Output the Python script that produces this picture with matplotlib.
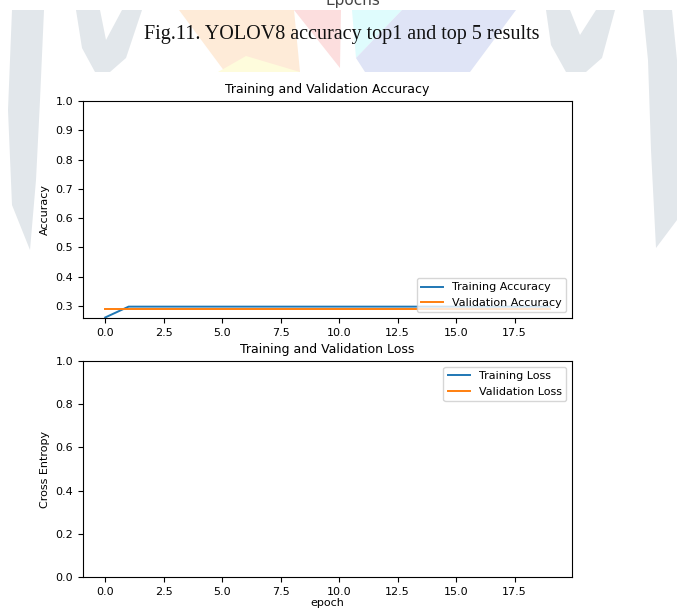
import matplotlib.pyplot as plt
from matplotlib.patches import Polygon
import numpy as np

# данные
epochs = list(range(20))
train_acc = [0.26] + [0.297] * 19
val_acc = [0.289] * 20
# потери за пределами видимой области (на графике их нет)
train_loss = [np.nan] * 20
val_loss = [np.nan] * 20

W, H = 677, 609

def px(pts):
	return [(x / W, 1 - y / H) for x, y in pts]

fig = plt.figure(figsize=(W / 100, H / 100), dpi=100)

# водяной знак страницы
shapes = [
	([(12, 10), (44, 10), (40, 100), (36, 180), (30, 250), (12, 205), (8, 110)], '#e2e7eb'),
	([(643, 10), (672, 10), (677, 60), (677, 220), (656, 248), (651, 150), (648, 60)], '#e2e7eb'),
	([(76, 10), (100, 10), (106, 40), (122, 10), (142, 10), (126, 58), (110, 72), (95, 72), (82, 48)], '#e2e7eb'),
	([(546, 10), (570, 10), (580, 35), (596, 10), (615, 10), (602, 58), (586, 72), (566, 72), (551, 45)], '#e2e7eb'),
	([(179, 10), (294, 10), (300, 72), (225, 72)], '#feebd8'),
	([(294, 10), (341, 10), (340, 68)], '#fcdede'),
	([(352, 10), (402, 10), (356, 58)], '#dffcfd'),
	([(402, 10), (516, 10), (470, 72), (365, 72), (356, 58)], '#dfe4f6'),
	([(246, 56), (300, 72), (218, 72)], '#fefcdc'),
]
for pts, c in shapes:
	fig.add_artist(Polygon(px(pts), closed=True, transform=fig.transFigure,
		facecolor=c, edgecolor='none', zorder=0))

fig.text(0.522, 1.0, 'Epochs', ha='center', va='center', fontsize=11, color='#444444')
fig.text(0.505, 1 - 35 / H, 'Fig.11. YOLOV8 accuracy top1 and top 5 results',
	ha='center', va='center', fontsize=14.5, family='Liberation Serif', color='#111111')

plt.rcParams['font.size'] = 8

# верхний график
ax1 = fig.add_axes([83 / W, 1 - 318 / H, (572 - 83) / W, (318 - 101) / H])
ax1.plot(epochs, train_acc, lw=1.4, label='Training Accuracy')
ax1.plot(epochs, val_acc, lw=1.4, label='Validation Accuracy')
ax1.legend(loc='lower right')
ax1.set_ylabel('Accuracy')
ax1.set_ylim([min(ax1.get_ylim()), 1])
ax1.set_title('Training and Validation Accuracy', fontsize=9)

# нижний график
ax2 = fig.add_axes([83 / W, 1 - 577 / H, (572 - 83) / W, (577 - 361) / H])
ax2.plot(epochs, train_loss, lw=1.4, label='Training Loss')
ax2.plot(epochs, val_loss, lw=1.4, label='Validation Loss')
ax2.legend(loc='upper right')
ax2.set_ylabel('Cross Entropy')
ax2.set_xlim(ax1.get_xlim())
ax2.set_ylim([0, 1.0])
ax2.set_title('Training and Validation Loss', fontsize=9)
ax2.set_xlabel('epoch', labelpad=1)

fig.savefig('out.png', dpi=100)
